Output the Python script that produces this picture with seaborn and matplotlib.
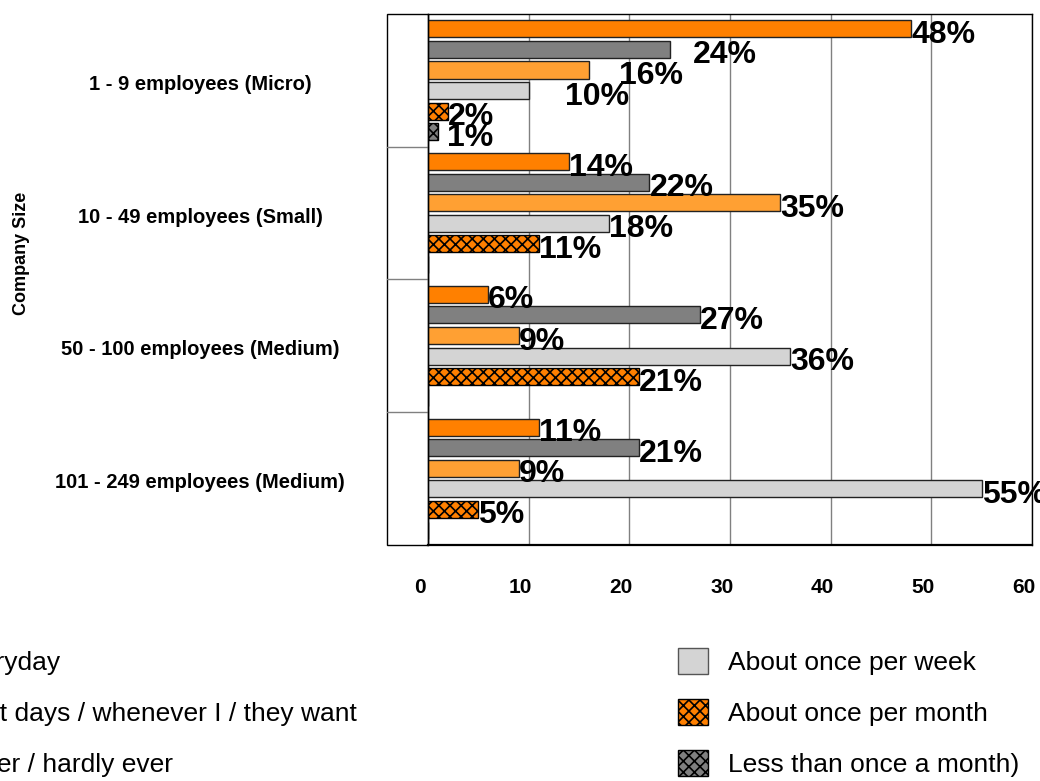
import pandas as pd
import matplotlib.pyplot as plt
import matplotlib.transforms as mtransforms
from matplotlib.patches import Rectangle
import seaborn as sns

# chart data
sizes = ['1 - 9 employees (Micro)', '10 - 49 employees (Small)',
         '50 - 100 employees (Medium)', '101 - 249 employees (Medium)']
frequencies = ['Everyday', 'Most days / whenever I / they want', 'Never / hardly ever',
               'About once per week', 'About once per month', 'Less than once a month)']
everyday = [48, 14, 6, 11]
most_days = [24, 22, 27, 21]
never = [16, 35, 9, 9]
weekly = [10, 18, 36, 55]
monthly = [2, 11, 21, 5]
rarely = [1, 0, 0, 0]
series = [everyday, most_days, never, weekly, monthly, rarely]

colors = ['#FF8000', '#808080', '#FFA033', '#D4D4D4', '#FF8000', '#808080']

# long format table for seaborn
rows = []
for freq, vals in zip(frequencies, series):
    for size, v in zip(sizes, vals):
        rows.append({'size': size, 'freq': freq, 'pct': v})
df = pd.DataFrame(rows)

sns.set_theme(style='white')
plt.rcParams['font.family'] = ['Liberation Sans', 'DejaVu Sans']
plt.rcParams['hatch.linewidth'] = 1.2
plt.rcParams['text.color'] = 'black'
plt.rcParams['xtick.labelcolor'] = 'black'
plt.rcParams['ytick.labelcolor'] = 'black'

fig = plt.figure(figsize=(10.4, 7.81), dpi=100)
ax = fig.add_axes([0.4115, 0.3022, 0.5808, 0.680])

sns.barplot(data=df, x='pct', y='size', hue='freq', orient='h', palette=colors,
            saturation=1, width=0.93, gap=0.17, edgecolor='#222222', linewidth=1,
            errorbar=None, ax=ax)
ax.set_ylim(3.5, -0.5)

# checker-like pattern for the last two series
for i in (4, 5):
    for bar in ax.containers[i]:
        bar.set_hatch('xxx')
        bar.set_edgecolor('black')

# data labels (micro group labels sit further right in the original)
nudge = {(0, 1): 23, (0, 2): 30, (0, 3): 36, (0, 5): 9}
for i, cont in enumerate(ax.containers):
    for j, bar in enumerate(cont):
        v = series[i][j]
        if v == 0:
            continue
        ax.annotate(f'{v}%', xy=(bar.get_width(), bar.get_y() + bar.get_height() / 2),
                    xytext=(nudge.get((j, i), 0), -6), textcoords='offset pixels',
                    ha='left', va='center', fontsize=23, fontweight='bold',
                    color='black', annotation_clip=False)

# axes styling
ax.set_xlim(0, 60)
ax.set_xticks(range(0, 61, 10))
ax.set_axisbelow(True)
ax.xaxis.grid(True, color='#808080', lw=1)
ax.yaxis.grid(False)
for s in ax.spines.values():
    s.set_visible(True)
    s.set_color('black')
    s.set_linewidth(1)
ax.spines['bottom'].set_linewidth(1.6)
ax.set_xlabel('')
ax.set_ylabel('')
ax.tick_params(axis='x', length=8, width=1, color='#808080', direction='out',
               pad=16, labelsize=15, labelcolor='black')
ax.tick_params(axis='y', length=0, pad=164, labelsize=14.5, labelcolor='black')
for lab in ax.get_xticklabels():
    lab.set_fontweight('bold')
    lab.set_transform(lab.get_transform() +
                      mtransforms.ScaledTranslation(-0.08, 0, fig.dpi_scale_trans))
for lab in ax.get_yticklabels():
    lab.set_fontweight('bold')
    lab.set_ha('center')
    lab.set_transform(lab.get_transform() +
                      mtransforms.ScaledTranslation(0, -0.02, fig.dpi_scale_trans))

# left wall of the 3d chart
wall = -0.068
ax.add_patch(Rectangle((wall, 0), -wall, 1, transform=ax.transAxes, clip_on=False,
                       facecolor='white', edgecolor='black', lw=1, zorder=0.5))
blend = mtransforms.blended_transform_factory(ax.transAxes, ax.transData)
for b in (0.5, 1.5, 2.5):
    ax.plot([wall, 0], [b, b], transform=blend, color='#808080', lw=1, clip_on=False)

fig.text(22 / 1040, 1 - 253 / 781, 'Company Size', rotation=90, ha='center', va='center',
         fontsize=13, fontweight='bold', color='black')

# legend in two blocks, the left one runs off the canvas
leg = ax.get_legend()
handles = leg.legend_handles
labels = [t.get_text() for t in leg.get_texts()]
leg.remove()
for i, h in enumerate(handles):
    h.set_edgecolor('#555555' if i < 4 else 'black')
    if i >= 4:
        h.set_hatch('xxx')

leg_fs = 19
fs_px = leg_fs * 100 / 72
hlen, hpad = 1.14, 0.75
# the left block starts so that its first letters fall outside the picture
left_x = -(1.88 * fs_px + hpad * fs_px + hlen * fs_px)
leg_kw = dict(loc='upper left', frameon=False, fontsize=leg_fs, handlelength=hlen,
              handleheight=hlen, handletextpad=hpad, labelspacing=0.92,
              borderpad=0, borderaxespad=0, labelcolor='black')
fig.legend(handles[:3], labels[:3], bbox_to_anchor=(left_x / 1040, 1 - 648 / 781), **leg_kw)
fig.legend(handles[3:], labels[3:], bbox_to_anchor=(678 / 1040, 1 - 648 / 781), **leg_kw)

fig.savefig('out.png', dpi=100)
